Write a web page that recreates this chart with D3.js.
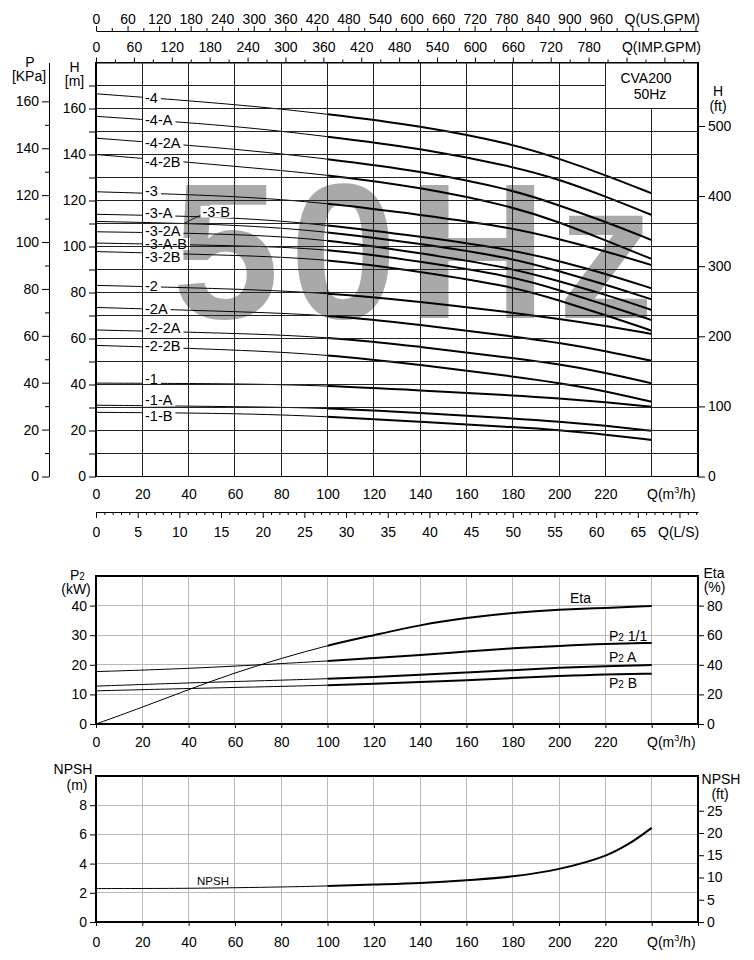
<!DOCTYPE html>
<html>
<head>
<meta charset="utf-8">
<script src="https://cdn.jsdelivr.net/npm/d3@7"></script>
<style>
  body { margin: 0; background: #fff; }
  svg { display: block; }
</style>
</head>
<body>
<svg id="chart"></svg>
<script>
// ---- head curves (m), read at these flows (m3/h) ----
const headFlow = [0, 60, 100, 140, 180, 200, 220, 240];
const curveNames = ['-4', '-4-A', '-4-2A', '-4-2B', '-3', '-3-A', '-3-B', '-3-2A', '-3-A-B', '-3-2B',
                    '-2', '-2A', '-2-2A', '-2-2B', '-1', '-1-A', '-1-B'];
const head4    = [166.4, 161.9, 157.6, 152.5, 144.6, 138.2, 131.1, 123.1];
const head4A   = [156.6, 152.5, 147.8, 142.8, 134.8, 129.2, 121.8, 113.7];
const head42A  = [147.1, 142.5, 138.1, 132.9, 124.7, 117.9, 110.8, 102.8];
const head42B  = [140.0, 134.9, 131.2, 125.8, 117.4, 110.6, 102.7, 94.6];
const head3    = [123.8, 122.0, 118.9, 113.8, 108.2, 103.2, 98.0, 91.9];
const head3A   = [114.0, 112.8, 109.4, 104.3, 98.6, 93.7, 88.2, 81.8];
const head3B   = [110.9, 109.6, 106.5, 101.2, 95.0, 89.2, 83.5, 77.0];
const head32A  = [106.4, 105.5, 103.1, 97.1, 90.6, 84.9, 79.1, 72.4];
const head3AB  = [101.5, 100.4, 99.1, 93.5, 87.0, 81.0, 74.7, 68.0];
const head32B  = [97.8, 96.2, 94.6, 89.1, 82.6, 76.6, 70.2, 63.4];
const head2    = [83.1, 81.6, 79.8, 76.1, 71.2, 68.6, 65.5, 62.0];
const head2A   = [73.5, 71.7, 70.3, 66.0, 60.9, 58.2, 54.6, 50.3];
const head22A  = [63.7, 62.3, 60.7, 56.5, 51.5, 48.8, 45.2, 40.5];
const head22B  = [57.0, 55.1, 53.0, 48.6, 43.5, 40.7, 37.2, 32.5];
const head1    = [40.6, 40.4, 39.5, 37.4, 35.3, 34.0, 32.3, 30.3];
const head1A   = [31.0, 30.4, 29.8, 27.6, 25.3, 23.9, 22.1, 19.9];
const head1B   = [27.9, 27.5, 26.1, 23.8, 21.5, 20.2, 18.2, 15.9];
const headSeries = [head4, head4A, head42A, head42B, head3, head3A, head3B, head32A, head3AB, head32B,
                    head2, head2A, head22A, head22B, head1, head1A, head1B];

// ---- power (kW) and efficiency (%) ----
const powerFlow = [0, 40, 80, 100, 120, 140, 160, 180, 200, 220, 240];
const p2Full = [17.7, 18.7, 20.4, 21.3, 22.3, 23.3, 24.5, 25.6, 26.4, 27.1, 27.4];
const p2A    = [12.8, 13.9, 14.8, 15.3, 15.9, 16.6, 17.4, 18.2, 19.0, 19.6, 19.9];
const p2B    = [11.2, 12.0, 12.7, 13.1, 13.6, 14.2, 14.8, 15.5, 16.2, 16.8, 17.0];
const etaFlow = [0, 20, 40, 60, 80, 100, 120, 140, 160, 180, 200, 220, 240];
const etaValues = [0, 11.3, 23.3, 34.7, 44.4, 53.2, 60.0, 67.0, 71.8, 75.2, 77.3, 78.4, 79.8];

// ---- NPSH (m) ----
const npshFlow = [0, 40, 80, 100, 120, 140, 160, 180, 200, 220, 230, 240];
const npshValues = [2.29, 2.31, 2.40, 2.47, 2.56, 2.67, 2.86, 3.13, 3.64, 4.55, 5.35, 6.45];

// ---- tick labels ----
const qTicks = [0, 20, 40, 60, 80, 100, 120, 140, 160, 180, 200, 220];
const hTicks = [0, 20, 40, 60, 80, 100, 120, 140, 160];
const pTicks = [0, 20, 40, 60, 80, 100, 120, 140, 160];
const ftTicks = [0, 100, 200, 300, 400, 500];
const kwTicks = [0, 10, 20, 30, 40];
const etaTicks = [0, 20, 40, 60, 80];
const npshTicks = [0, 2, 4, 6, 8];
const npshFtTicks = [0, 5, 10, 15, 20, 25];

const FONT = '"Liberation Sans", Arial, Helvetica, sans-serif';
const W = 754, H = 960;

const svg = d3.select('#chart').attr('width', W).attr('height', H)
    .attr('font-family', FONT);
svg.append('rect').attr('width', W).attr('height', H).attr('fill', '#fff');

// shared flow scale and unit conversions
const x = d3.scaleLinear().domain([0, 260]).range([96, 698]);
const xUS = d3.scaleLinear().domain([0, 260 * 4.4029]).range([96, 698]);
const xIMP = d3.scaleLinear().domain([0, 260 * 3.6662]).range([96, 698]);
const xLS = d3.scaleLinear().domain([0, 260 / 3.6]).range([96, 698]);

const yH = d3.scaleLinear().domain([0, 180]).range([476.5, 62.5]);
const yP = d3.scaleLinear().domain([0, 180 * 0.981]).range([476.5, 62.5]);
const yFt = d3.scaleLinear().domain([0, 180 / 0.3048]).range([476.5, 62.5]);

const yKW = d3.scaleLinear().domain([0, 50]).range([724, 576]);
const yEta = d3.scaleLinear().domain([0, 100]).range([724, 576]);

const yN = d3.scaleLinear().domain([0, 10]).range([922, 776]);
const yNft = d3.scaleLinear().domain([0, 10 / 0.3048]).range([922, 776]);

// thin line up to 100 m3/h, thick afterwards
const defs = svg.append('defs');
defs.append('clipPath').attr('id', 'clipThin')
    .append('rect').attr('x', 0).attr('y', 0).attr('width', x(100)).attr('height', H);
defs.append('clipPath').attr('id', 'clipThick')
    .append('rect').attr('x', x(100)).attr('y', 0).attr('width', W - x(100)).attr('height', H);

function drawCurve(g, flows, values, yScale, curve = d3.curveBasis) {
    const pts = flows.map((q, i) => [q, values[i]]);
    const line = d3.line()
        .x(d => x(d[0]))
        .y(d => yScale(d[1]))
        .curve(curve);
    g.append('path').attr('d', line(pts))
        .attr('fill', 'none').attr('stroke', '#000').attr('stroke-width', 1)
        .attr('clip-path', 'url(#clipThin)');
    g.append('path').attr('d', line(pts))
        .attr('fill', 'none').attr('stroke', '#000').attr('stroke-width', 2)
        .attr('clip-path', 'url(#clipThick)');
}

function styleAxis(g, size) {
    g.attr('font-family', FONT).attr('font-size', size);
    g.selectAll('text').attr('fill', '#000');
    g.selectAll('line, path').attr('stroke', '#000');
    return g;
}

function label(txt, xx, yy, opts = {}) {
    return svg.append('text')
        .attr('x', xx).attr('y', yy)
        .attr('font-size', opts.size || 14)
        .attr('text-anchor', opts.anchor || 'start')
        .attr('fill', '#000')
        .text(txt);
}

function qUnitLabel(baseline) {
    const t = svg.append('text').attr('x', 647).attr('y', baseline)
        .attr('font-size', 14).attr('fill', '#000');
    t.append('tspan').text('Q(m');
    t.append('tspan').attr('font-size', 9).attr('dy', -6).text('3');
    t.append('tspan').attr('dy', 6).text('/h)');
}

// =================== TOP CHART: H-Q ===================
const headG = svg.append('g');

// watermark
headG.append('text')
    .attr('x', 172).attr('y', 318)
    .attr('font-size', 193).attr('font-weight', 'bold')
    .attr('letter-spacing', 10.5)
    .attr('fill', '#a9a9a9')
    .text('50Hz');

const curvesG = headG.append('g');
headSeries.forEach(vals => drawCurve(curvesG, headFlow, vals, yH));

// curve labels with a white gap behind them
const labelNudge = [0, 0, 0.5, 3, -2, -3, 0, -1.5, 0, 3.5, -1.3, 0, -3, -1, -5, -5.5, 3];
const labelsG = headG.append('g');
curveNames.forEach((name, i) => {
    const at = d3.scaleLinear().domain(headFlow).range(headSeries[i]);
    let lx, ly;
    if (name === '-3-B') {
        lx = x(46);
        ly = yH(at(46)) - 12;
        labelsG.append('line')
            .attr('x1', lx - 1).attr('y1', ly + 3)
            .attr('x2', x(38)).attr('y2', yH(at(38)))
            .attr('stroke', '#000').attr('stroke-width', 0.8);
    } else {
        lx = 145;
        ly = yH(at(21.5)) + labelNudge[i];
    }
    const bg = labelsG.append('rect').attr('fill', '#fff');
    const t = labelsG.append('text')
        .attr('x', lx).attr('y', ly).attr('dy', '0.36em')
        .attr('font-size', 14.5).attr('fill', '#000')
        .text(name);
    const len = t.node().getComputedTextLength();
    bg.attr('x', lx - 2).attr('y', ly - 6).attr('width', len + 5).attr('height', 12);
});

// grid
const gridG = headG.append('g').attr('stroke', '#222').attr('stroke-width', 1)
    .attr('shape-rendering', 'crispEdges');
d3.range(10, 180, 10).forEach(h => {
    gridG.append('line')
        .attr('x1', x(0)).attr('x2', h === 170 ? x(220) : x(260))
        .attr('y1', yH(h)).attr('y2', yH(h));
});
d3.range(20, 260, 20).forEach(q => {
    gridG.append('line')
        .attr('x1', x(q)).attr('x2', x(q))
        .attr('y1', yH(0)).attr('y2', q === 240 ? yH(160) : yH(180));
});
headG.append('rect')
    .attr('x', x(0)).attr('y', yH(180))
    .attr('width', x(260) - x(0)).attr('height', yH(0) - yH(180))
    .attr('fill', 'none').attr('stroke', '#000').attr('stroke-width', 1.2)
    .attr('shape-rendering', 'crispEdges');

label('CVA200', 646, 83, { anchor: 'middle' });
label('50Hz', 650, 98.5, { anchor: 'middle' });

// H (m) axis
const hAxis = headG.append('g').attr('transform', `translate(${x(0)},0)`)
    .call(d3.axisLeft(yH).tickValues(d3.range(0, 180, 10)).tickSize(7).tickPadding(3)
        .tickFormat(d => hTicks.includes(d) ? d : ''));
hAxis.select('.domain').remove();
styleAxis(hAxis, 14);
label('H', 74.5, 72, { anchor: 'middle' });
label('[m]', 74.5, 86, { anchor: 'middle' });

// P axis
const pAxis = headG.append('g').attr('transform', 'translate(49,0)')
    .call(d3.axisLeft(yP).tickValues(pTicks).tickSize(7).tickSizeOuter(0).tickPadding(3));
styleAxis(pAxis, 14);
const pMinor = headG.append('g').attr('transform', 'translate(49,0)')
    .call(d3.axisLeft(yP).tickValues(d3.range(10, 160, 20)).tickSize(4).tickFormat(''));
pMinor.select('.domain').remove();
styleAxis(pMinor, 14);
label('P', 30, 67, { anchor: 'middle' });
label('[KPa]', 29, 81, { anchor: 'middle' });

// H (ft) axis
const ftAxis = headG.append('g').attr('transform', `translate(${x(260)},0)`)
    .call(d3.axisRight(yFt).tickValues(ftTicks).tickSize(7).tickPadding(3));
ftAxis.select('.domain').remove();
styleAxis(ftAxis, 14);
label('H', 718, 96, { anchor: 'middle' });
label('(ft)', 718, 111, { anchor: 'middle' });

// flow axes above
function flowAxisTop(scale, yy, maxLabel, padding) {
    const maxQ = scale.domain()[1];
    const major = headG.append('g').attr('transform', `translate(0,${yy})`)
        .call(d3.axisTop(scale).tickValues(d3.range(0, maxQ, 60)).tickSize(5).tickSizeOuter(0)
            .tickPadding(padding).tickFormat(d => d <= maxLabel ? d : ''));
    styleAxis(major, 14);
    const minor = headG.append('g').attr('transform', `translate(0,${yy})`)
        .call(d3.axisTop(scale).tickValues(d3.range(30, maxQ, 60)).tickSize(3).tickFormat(''));
    minor.select('.domain').remove();
    styleAxis(minor, 14);
}
flowAxisTop(xUS, 31, 960, 2);
flowAxisTop(xIMP, yH(180), 780, 5.5);
label('Q(US.GPM)', 700, 24, { anchor: 'end' });
label('Q(IMP.GPM)', 701, 52, { anchor: 'end' });

// Q labels under the H chart
const qAxisTop = headG.append('g').attr('transform', `translate(0,${yH(0)})`)
    .call(d3.axisBottom(x).tickValues(qTicks).tickSize(0).tickPadding(12.8));
qAxisTop.select('.domain').remove();
styleAxis(qAxisTop, 14);
qUnitLabel(499.3);

// L/S axis
const lsMajor = headG.append('g').attr('transform', 'translate(0,512)')
    .call(d3.axisBottom(xLS).tickValues(d3.range(0, 72.3, 5)).tickSize(6).tickSizeOuter(0)
        .tickPadding(9).tickFormat(d => d <= 65 ? d : ''));
styleAxis(lsMajor, 14);
const lsMinor = headG.append('g').attr('transform', 'translate(0,512)')
    .call(d3.axisBottom(xLS).tickValues(d3.range(1, 72.3, 1).filter(d => d % 5 !== 0))
        .tickSize(3).tickFormat(''));
lsMinor.select('.domain').remove();
styleAxis(lsMinor, 14);
label('Q(L/S)', 658, 537);

// =================== MIDDLE CHART: P2 / Eta ===================
const powerG = svg.append('g');
const midGrid = powerG.append('g').attr('stroke', '#b8b8b8').attr('stroke-width', 1)
    .attr('shape-rendering', 'crispEdges');
d3.range(20, 260, 20).forEach(q => {
    midGrid.append('line').attr('x1', x(q)).attr('x2', x(q)).attr('y1', yKW(0)).attr('y2', yKW(50));
});
d3.range(10, 50, 10).forEach(k => {
    midGrid.append('line').attr('x1', x(0)).attr('x2', x(260)).attr('y1', yKW(k)).attr('y2', yKW(k));
});
powerG.append('rect')
    .attr('x', x(0)).attr('y', yKW(50))
    .attr('width', x(260) - x(0)).attr('height', yKW(0) - yKW(50))
    .attr('fill', 'none').attr('stroke', '#000').attr('stroke-width', 1.2)
    .attr('shape-rendering', 'crispEdges');

drawCurve(powerG, etaFlow, etaValues, yEta);
drawCurve(powerG, powerFlow, p2Full, yKW);
drawCurve(powerG, powerFlow, p2A, yKW);
drawCurve(powerG, powerFlow, p2B, yKW);

const kwAxis = powerG.append('g').attr('transform', `translate(${x(0)},0)`)
    .call(d3.axisLeft(yKW).tickValues(kwTicks).tickSize(6).tickPadding(3));
kwAxis.select('.domain').remove();
styleAxis(kwAxis, 14);
const etaAxis = powerG.append('g').attr('transform', `translate(${x(260)},0)`)
    .call(d3.axisRight(yEta).tickValues(etaTicks).tickSize(6).tickPadding(3));
etaAxis.select('.domain').remove();
styleAxis(etaAxis, 14);
const qAxisMid = powerG.append('g').attr('transform', `translate(0,${yKW(0)})`)
    .call(d3.axisBottom(x).tickValues(d3.range(0, 261, 20)).tickSize(4).tickPadding(8.7)
        .tickFormat(d => qTicks.includes(d) ? d : ''));
qAxisMid.select('.domain').remove();
styleAxis(qAxisMid, 14);
qUnitLabel(746.6);

function p2Label(suffix, xx, yy) {
    const t = svg.append('text').attr('x', xx).attr('y', yy).attr('font-size', 14).attr('fill', '#000');
    t.append('tspan').text('P');
    t.append('tspan').attr('font-size', 10).text('2');
    t.append('tspan').text(suffix);
    return t;
}
p2Label('', 70, 579.5);
label('(kW)', 76, 594, { anchor: 'middle' });
label('Eta', 714, 578.3, { anchor: 'middle' });
label('(%)', 714.6, 592, { anchor: 'middle' });
label('Eta', 570, 602.7);
p2Label(' 1/1', 609, 641);
p2Label(' A', 609, 662);
p2Label(' B', 609, 688);

// =================== BOTTOM CHART: NPSH ===================
const npshG = svg.append('g');
const botGrid = npshG.append('g').attr('stroke', '#b8b8b8').attr('stroke-width', 1)
    .attr('shape-rendering', 'crispEdges');
d3.range(20, 260, 20).forEach(q => {
    botGrid.append('line').attr('x1', x(q)).attr('x2', x(q)).attr('y1', yN(0)).attr('y2', yN(10));
});
d3.range(2, 10, 2).forEach(n => {
    botGrid.append('line').attr('x1', x(0)).attr('x2', x(260)).attr('y1', yN(n)).attr('y2', yN(n));
});
npshG.append('rect')
    .attr('x', x(0)).attr('y', yN(10))
    .attr('width', x(260) - x(0)).attr('height', yN(0) - yN(10))
    .attr('fill', 'none').attr('stroke', '#000').attr('stroke-width', 1.2)
    .attr('shape-rendering', 'crispEdges');

drawCurve(npshG, npshFlow, npshValues, yN, d3.curveCatmullRom.alpha(0.5));

const nAxis = npshG.append('g').attr('transform', `translate(${x(0)},0)`)
    .call(d3.axisLeft(yN).tickValues(npshTicks).tickSize(6).tickPadding(3));
nAxis.select('.domain').remove();
styleAxis(nAxis, 14);
const nFtAxis = npshG.append('g').attr('transform', `translate(${x(260)},0)`)
    .call(d3.axisRight(yNft).tickValues(npshFtTicks).tickSize(6).tickPadding(3));
nFtAxis.select('.domain').remove();
styleAxis(nFtAxis, 14);
const qAxisBot = npshG.append('g').attr('transform', `translate(0,${yN(0)})`)
    .call(d3.axisBottom(x).tickValues(d3.range(0, 261, 20)).tickSize(4).tickPadding(10.7)
        .tickFormat(d => qTicks.includes(d) ? d : ''));
qAxisBot.select('.domain').remove();
styleAxis(qAxisBot, 14);
qUnitLabel(946.6);

label('NPSH', 73, 774, { anchor: 'middle' });
label('(m)', 77, 789.5, { anchor: 'middle' });
label('NPSH', 721, 784, { anchor: 'middle' });
label('(ft)', 720, 799, { anchor: 'middle' });
label('NPSH', 197, 885, { size: 11.5 });
</script>
</body>
</html>
